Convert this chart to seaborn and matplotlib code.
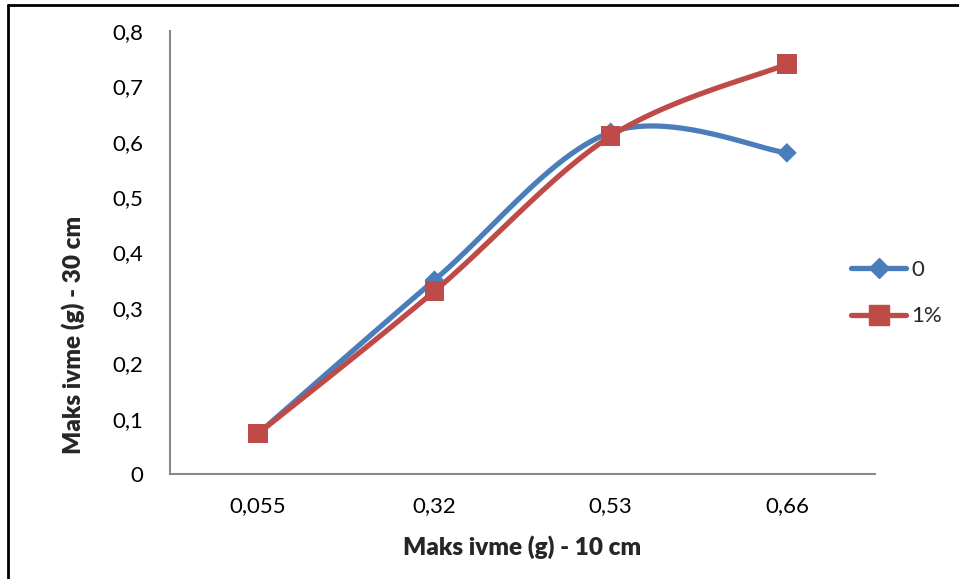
import numpy as np
import pandas as pd
import matplotlib
matplotlib.use("Agg")
import matplotlib.pyplot as plt
from matplotlib.lines import Line2D
import seaborn as sns

categories = ["0,055", "0,32", "0,53", "0,66"]
series_0 = [0.073, 0.35, 0.617, 0.58]
series_1pct = [0.073, 0.33, 0.61, 0.74]
series_names = ["0", "1%"]
y_ticks = [0, 0.1, 0.2, 0.3, 0.4, 0.5, 0.6, 0.7, 0.8]
y_tick_labels = ["0", "0,1", "0,2", "0,3", "0,4", "0,5", "0,6", "0,7", "0,8"]

BLUE = "#4A7EBB"
RED = "#BE4B48"
FONT = "Lato"

sns.set_theme(style="white")
plt.rcParams["font.family"] = [FONT, "DejaVu Sans"]


def smooth(xs, ys, n=40):
    """Excel-style smoothed line: cubic Bezier segments (Catmull-Rom tangents)."""
    P = np.column_stack([xs, ys]).astype(float)
    ext = np.vstack([P[0], P, P[-1]])
    out = []
    t = np.linspace(0, 1, n)[:, None]
    for i in range(len(P) - 1):
        p0 = ext[i + 1]
        p3 = ext[i + 2]
        c1 = p0 + (ext[i + 2] - ext[i]) / 6.0
        c2 = p3 - (ext[i + 3] - ext[i + 1]) / 6.0
        seg = ((1 - t) ** 3) * p0 + 3 * ((1 - t) ** 2) * t * c1 + 3 * (1 - t) * t ** 2 * c2 + t ** 3 * p3
        out.append(seg if i == 0 else seg[1:])
    seg = np.vstack(out)
    return seg[:, 0], seg[:, 1]


fig = plt.figure(figsize=(9.59, 5.79), dpi=100)
ax = fig.add_axes([170 / 959, 1 - 474 / 579, (875 - 170) / 959, (474 - 31) / 579])

xpos = np.arange(len(categories))
styles = [(series_0, BLUE, "D", 100), (series_1pct, RED, "s", 200)]
for (vals, col, mk, sz), name in zip(styles, series_names):
    sx, sy = smooth(xpos, vals)
    curve = pd.DataFrame({"x": sx, "y": sy})
    sns.lineplot(data=curve, x="x", y="y", sort=False, estimator=None, color=col,
                 linewidth=3.8, ax=ax, solid_capstyle="round")
    pts = pd.DataFrame({"x": xpos, "y": vals})
    sns.scatterplot(data=pts, x="x", y="y", marker=mk, s=sz, color=col,
                    edgecolor="none", linewidth=0, ax=ax, zorder=5)

ax.set_xlim(-0.5, len(categories) - 0.5)
ax.set_ylim(0, 0.8)
ax.set_xticks(xpos)
ax.set_xticklabels(categories)
ax.set_yticks(y_ticks)
ax.set_yticklabels(y_tick_labels)
ax.tick_params(axis="both", length=0, labelsize=16, colors="black")
ax.tick_params(axis="y", pad=19)
ax.tick_params(axis="x", pad=16)
for s in ["top", "right"]:
    ax.spines[s].set_visible(False)
for s in ["left", "bottom"]:
    ax.spines[s].set_color("#888888")
    ax.spines[s].set_linewidth(1.5)

ax.set_xlabel("Maks ivme (g) - 10 cm", fontsize=17.5, fontweight="heavy", labelpad=14)
ax.set_ylabel("Maks ivme (g) - 30 cm", fontsize=17.5, fontweight="heavy")
ax.yaxis.set_label_coords(-0.121, 0.315)

handles = [
    Line2D([], [], color=BLUE, marker="D", markersize=10, linewidth=3.8, solid_capstyle="round"),
    Line2D([], [], color=RED, marker="s", markersize=14, linewidth=3.8, solid_capstyle="round"),
]
fig.legend(handles, series_names, loc="center left", bbox_to_anchor=(842 / 959, 1 - 293 / 579),
           frameon=False, fontsize=16, handlelength=2.5, handletextpad=0.2, labelspacing=1.2,
           borderaxespad=0)

# outer chart border (clipped at right and bottom in the reference)
fig.add_artist(Line2D([8 / 959, 1.0], [1 - 5 / 579, 1 - 5 / 579], transform=fig.transFigure,
                      color="black", linewidth=2))
fig.add_artist(Line2D([8 / 959, 8 / 959], [0.0, 1 - 5 / 579], transform=fig.transFigure,
                      color="black", linewidth=2))

fig.savefig("out.png", dpi=100, facecolor="white")
